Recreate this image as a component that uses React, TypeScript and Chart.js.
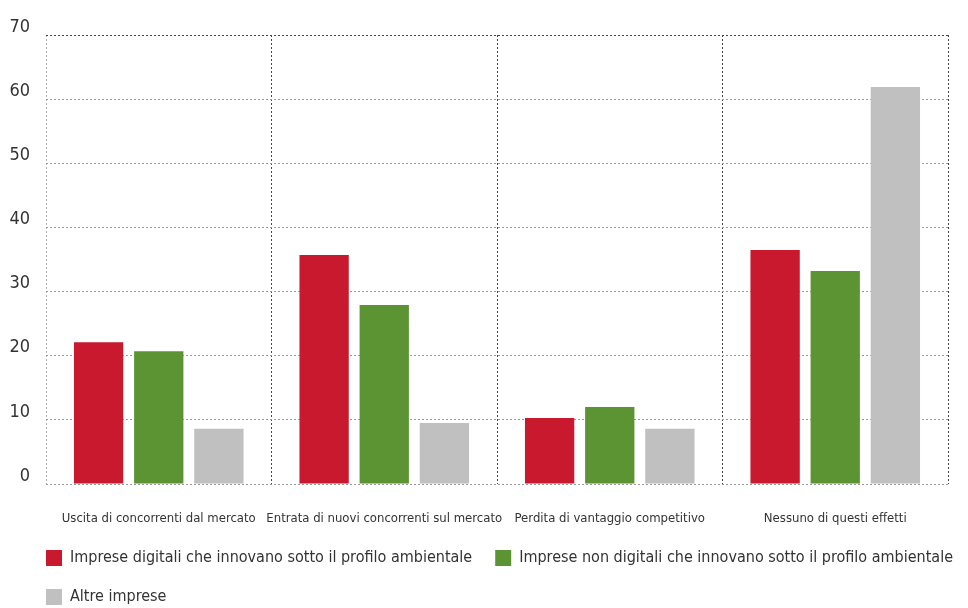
import React, { useEffect, useRef } from "react";
import { Chart, registerables } from "chart.js";

Chart.register(...registerables);

const categories = [
  "Uscita di concorrenti dal mercato",
  "Entrata di nuovi concorrenti sul mercato",
  "Perdita di vantaggio competitivo",
  "Nessuno di questi effetti",
];
const seriesNames = [
  "Imprese digitali che innovano sotto il profilo ambientale",
  "Imprese non digitali che innovano sotto il profilo ambientale",
  "Altre imprese",
];
const digitali = [22.1, 35.7, 10.3, 36.5];
const nonDigitali = [20.7, 27.9, 12.0, 33.2];
const altre = [8.6, 9.5, 8.6, 61.9];
const yMax = 70;
const yStep = 10;

const FONT = "'Liberation Sans Narrow', 'DejaVu Sans Condensed', 'Arial Narrow', sans-serif";
const TEXT = "#333333";

// Lines the legend up with the left edge of the plot area and lets the
// first row run out to the canvas edge.
const legendIndent = {
  id: "legendIndent",
  afterLayout(chart: any) {
    if (chart.legend) {
      const pad = chart.legend.options.labels.padding;
      chart.legend.left = chart.chartArea.left - pad;
      chart.legend.right = chart.width + 2 * pad;
    }
  },
};

export default function App() {
  const ref = useRef<HTMLCanvasElement>(null);

  useEffect(() => {
    document.body.style.margin = "0";
    const canvas = ref.current;
    if (!canvas) return;
    const chart = new Chart(canvas, {
      type: "bar",
      data: {
        labels: categories,
        datasets: [
          { label: seriesNames[0], data: digitali, backgroundColor: "#C8192E", borderWidth: 0 },
          { label: seriesNames[1], data: nonDigitali, backgroundColor: "#5C9434", borderWidth: 0 },
          { label: seriesNames[2], data: altre, backgroundColor: "#C0C0C0", borderWidth: 0 },
        ],
      },
      options: {
        responsive: false,
        animation: false,
        categoryPercentage: 0.8,
        barPercentage: 0.82,
        layout: { padding: { left: 0, right: 0, top: 35, bottom: -7 } },
        plugins: {
          tooltip: { enabled: false },
          legend: {
            position: "bottom",
            align: "start",
            labels: {
              boxWidth: 16,
              boxHeight: 16,
              padding: 23,
              color: TEXT,
              font: { family: FONT, size: 16 },
            },
          },
        },
        scales: {
          x: {
            border: { display: false, dash: [2, 2] },
            grid: {
              drawTicks: false,
              color: (ctx: any) => (ctx.index === 0 || ctx.index === categories.length ? "#b0b0b0" : "#444444"),
            },
            ticks: {
              padding: 27,
              color: TEXT,
              maxRotation: 0,
              autoSkip: false,
              font: { family: FONT, size: 13 },
            },
            afterFit: (s: any) => {
              s.height = 43;
            },
          },
          y: {
            min: 0,
            max: yMax,
            border: { display: false, dash: [2, 2] },
            grid: {
              drawTicks: false,
              color: (ctx: any) => (ctx.tick && ctx.tick.value === yMax ? "#444444" : "#9a9a9a"),
            },
            ticks: {
              stepSize: yStep,
              padding: 16,
              labelOffset: -8,
              color: TEXT,
              font: { family: FONT, size: 18 },
            },
            afterFit: (s: any) => {
              s.width = 46;
            },
          },
          // empty right margin strip beside the plot area
          yRight: {
            position: "right",
            min: 0,
            max: yMax,
            border: { display: false },
            grid: { display: false, drawTicks: false },
            ticks: { display: false },
            afterFit: (s: any) => {
              s.width = 20;
            },
          },
        },
      },
      plugins: [legendIndent],
    });
    return () => chart.destroy();
  }, []);

  return <canvas ref={ref} width={968} height={608} />;
}
